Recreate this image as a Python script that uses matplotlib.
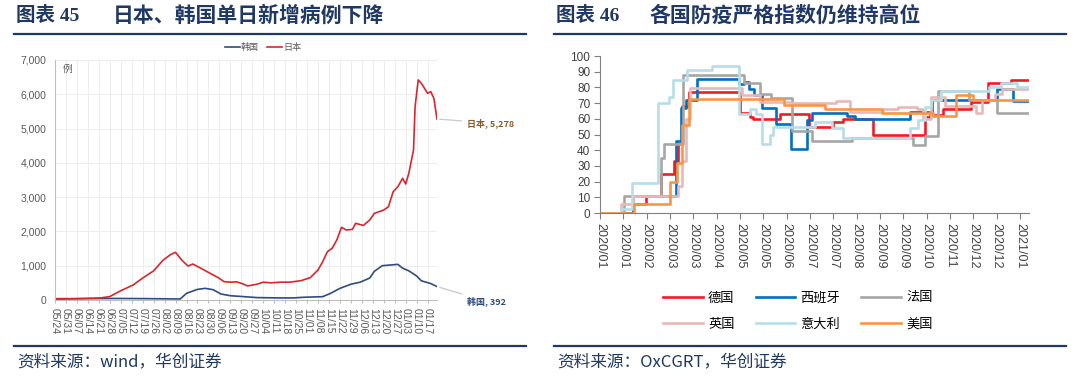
import matplotlib
matplotlib.use("Agg")
import matplotlib.pyplot as plt
import pandas as pd

plt.rcParams['font.family'] = ['Liberation Sans', 'Noto Sans CJK SC', 'DejaVu Sans']
CJK = ['Noto Sans CJK SC', 'DejaVu Sans']

# ---- left chart: daily new cases, Japan / Korea ----
jp_date = ['2020-05-24', '2020-06-03', '2020-06-12', '2020-06-22', '2020-06-28', '2020-07-05',
           '2020-07-13', '2020-07-19', '2020-07-26', '2020-08-01', '2020-08-06', '2020-08-09',
           '2020-08-13', '2020-08-17', '2020-08-20', '2020-08-25', '2020-08-31', '2020-09-05',
           '2020-09-09', '2020-09-13', '2020-09-17', '2020-09-21', '2020-09-24', '2020-09-30',
           '2020-10-04', '2020-10-09', '2020-10-15', '2020-10-21', '2020-10-28', '2020-11-03',
           '2020-11-08', '2020-11-11', '2020-11-14', '2020-11-17', '2020-11-20', '2020-11-23',
           '2020-11-26', '2020-11-30', '2020-12-02', '2020-12-07', '2020-12-11', '2020-12-14',
           '2020-12-20', '2020-12-23', '2020-12-26', '2020-12-29', '2021-01-01', '2021-01-03',
           '2021-01-05', '2021-01-08', '2021-01-09', '2021-01-11', '2021-01-13', '2021-01-17',
           '2021-01-19', '2021-01-21', '2021-01-23']
jp_val = [40, 40, 45, 60, 100, 270,
          440, 640, 850, 1160, 1330, 1390,
          1160, 990, 1050, 930, 780, 660,
          535, 520, 530, 470, 410, 460,
          520, 500, 520, 520, 562, 650,
          875, 1118, 1410, 1507, 1750, 2120,
          2042, 2060, 2236, 2175, 2333, 2528,
          2625, 2722, 3160, 3305, 3549, 3383,
          3695, 4375, 5640, 6417, 6320, 6028,
          6078, 5882, 5278]

kr_date = ['2020-05-24', '2020-06-12', '2020-07-02', '2020-07-21', '2020-08-12', '2020-08-16',
           '2020-08-23', '2020-08-28', '2020-09-02', '2020-09-07', '2020-09-13', '2020-09-21',
           '2020-09-30', '2020-10-15', '2020-10-23', '2020-10-30', '2020-11-11', '2020-11-16',
           '2020-11-22', '2020-11-29', '2020-12-05', '2020-12-11', '2020-12-14', '2020-12-19',
           '2020-12-24', '2020-12-29', '2021-01-01', '2021-01-05', '2021-01-10', '2021-01-13',
           '2021-01-19', '2021-01-23']
kr_val = [25, 40, 45, 40, 30, 195,
          310, 340, 300, 175, 125, 100,
          70, 60, 60, 80, 97, 194,
          340, 460, 520, 640, 837, 1000,
          1020, 1040, 930, 850, 700, 560,
          480, 392]

# ---- right chart: OxCGRT stringency index, change points ----
de_date = ['2020-01-01', '2020-01-31', '2020-02-11', '2020-02-25', '2020-03-08', '2020-03-11',
           '2020-03-15', '2020-03-21', '2020-05-06', '2020-05-15', '2020-05-18', '2020-06-11',
           '2020-07-07', '2020-07-29', '2020-08-07', '2020-09-03', '2020-10-19', '2020-10-24',
           '2020-11-05', '2020-11-30', '2020-12-15', '2021-01-05', '2021-01-21']
de_val = [0, 5.6, 11.1, 25, 33, 44, 68, 76.9, 64, 61, 60, 63, 55, 58, 60, 50, 61, 62.5,
          66, 71, 83, 85, 85]

es_date = ['2020-01-01', '2020-01-31', '2020-03-09', '2020-03-14', '2020-03-18', '2020-03-28',
           '2020-05-05', '2020-05-10', '2020-05-14', '2020-05-19', '2020-05-26', '2020-06-07',
           '2020-06-21', '2020-07-05', '2020-07-10', '2020-08-10', '2020-08-17', '2020-10-06',
           '2020-10-26', '2020-12-23', '2021-01-07', '2021-01-21']
es_val = [0, 11, 46, 67, 72, 85.2, 82, 83.5, 79, 75, 67, 57, 41, 59, 63.5, 62, 60, 64.6,
          72, 79, 71.6, 71.6]

fr_date = ['2020-01-01', '2020-01-23', '2020-02-25', '2020-02-28', '2020-03-16', '2020-05-10',
           '2020-05-24', '2020-06-03', '2020-06-22', '2020-07-10', '2020-08-15', '2020-10-09',
           '2020-10-19', '2020-10-31', '2020-11-28', '2020-12-23', '2021-01-21']
fr_val = [0, 11, 35, 44, 88, 82.6, 76, 73, 52, 46, 48, 43.4, 49, 78, 72, 64, 64]

uk_date = ['2020-01-01', '2020-01-20', '2020-01-31', '2020-03-11', '2020-03-15', '2020-03-18',
           '2020-03-22', '2020-05-08', '2020-05-24', '2020-06-21', '2020-07-31', '2020-08-13',
           '2020-09-12', '2020-09-25', '2020-10-12', '2020-10-18', '2020-10-25', '2020-11-06',
           '2020-12-04', '2020-12-10', '2020-12-21', '2020-12-28', '2021-01-21']
uk_val = [0, 5.6, 11, 17, 33, 60, 79.6, 75, 71, 70, 71.5, 64.4, 66.5, 67.6, 66, 60, 74, 68,
          64, 72, 76, 79, 79]

it_date = ['2020-01-01', '2020-01-20', '2020-01-30', '2020-02-22', '2020-03-03', '2020-03-07',
           '2020-03-19', '2020-04-11', '2020-05-05', '2020-05-15', '2020-05-20', '2020-05-26',
           '2020-06-02', '2020-06-05', '2020-07-12', '2020-07-28', '2020-08-07', '2020-10-06',
           '2020-10-13', '2020-10-19', '2020-10-25', '2020-11-03', '2020-12-16', '2020-12-27',
           '2021-01-10', '2021-01-21']
it_val = [0, 2.8, 19.4, 70, 74, 85, 91, 93.5, 63, 66, 63, 44, 50, 55, 58, 54, 47.5, 54.4,
          59, 67.6, 72, 78, 80, 83, 80, 80]

us_date = ['2020-01-01', '2020-02-01', '2020-03-04', '2020-03-10', '2020-03-15', '2020-03-21',
           '2020-06-15', '2020-07-21', '2020-09-11', '2020-10-27', '2020-11-16', '2020-12-02',
           '2021-01-21']
us_val = [0, 5.6, 20, 32, 56, 72.7, 69, 66.5, 63.5, 62, 75, 72, 72]

countries = ['德国', '西班牙', '法国', '英国', '意大利', '美国']
colors = ['#EE1C25', '#0070C0', '#A6A6A6', '#E6B9B8', '#B7DEE8', '#F79646']
series = [(de_date, de_val), (es_date, es_val), (fr_date, fr_val),
          (uk_date, uk_val), (it_date, it_val), (us_date, us_val)]

NAVY = '#1F3864'
W, H = 1080, 379
fig = plt.figure(figsize=(10.8, 3.79), dpi=100)


def header(x0, x1, num, title, tx, src):
    fig.text((x0 + 2.5) / W, 1 - 15.5 / H, num, family=['Liberation Serif'] + CJK,
             fontsize=14, fontweight='bold', color=NAVY, va='center')
    fig.text(tx / W, 1 - 15.5 / H, title, family=CJK, fontsize=15,
             fontweight='bold', color=NAVY, va='center')
    fig.add_artist(plt.Line2D([x0 / W, x1 / W], [1 - 33.5 / H] * 2, color=NAVY, lw=1.6))
    fig.add_artist(plt.Line2D([x0 / W, x1 / W], [1 - 346 / H] * 2, color=NAVY, lw=1.6))
    fig.text((x0 + 3) / W, 1 - 362 / H, src, family=CJK, fontsize=12,
             style='italic', color=NAVY, va='center')


header(14, 526, '图表 45', '日本、韩国单日新增病例下降', 113, '资料来源：wind，华创证券')
header(554, 1066, '图表 46', '各国防疫严格指数仍维持高位', 649, '资料来源：OxCGRT，华创证券')

# ---- left axes ----
ax1 = fig.add_axes([55 / W, 1 - 300 / H, 382 / W, 240 / H])
jd = pd.to_datetime(jp_date)
kd = pd.to_datetime(kr_date)
ax1.plot(kd, kr_val, color='#2F4C7E', lw=1.2, label='韩国')
ax1.plot(jd, jp_val, color='#D9262E', lw=1.2, label='日本')
ax1.set_ylim(0, 7000)
ax1.set_yticks(range(0, 7001, 1000))
ax1.set_yticklabels([f'{v:,}' for v in range(0, 7001, 1000)])
wk = pd.date_range('2020-05-24', periods=35, freq='7D')
ax1.set_xlim(pd.Timestamp('2020-05-24'), pd.Timestamp('2021-01-23'))
ax1.set_xticks(wk)
ax1.set_xticklabels([d.strftime('%m/%d') for d in wk], rotation=270)
ax1.grid(True, color='#EDEDED', lw=0.7)
ax1.set_axisbelow(True)
for s in ['top', 'right']:
    ax1.spines[s].set_visible(False)
for s in ['left', 'bottom']:
    ax1.spines[s].set_color('#BFBFBF')
ax1.tick_params(axis='y', length=0, labelsize=7.5, labelcolor='#595959', pad=6)
ax1.tick_params(axis='x', length=2, color='#BFBFBF', labelsize=7.5, labelcolor='#595959', pad=4)
ax1.text(0.02, 0.985, '例', transform=ax1.transAxes, family=CJK, fontsize=7,
         color='#595959', va='top')
ax1.legend(loc='center', bbox_to_anchor=((263 - 55) / 382, 1.052), ncol=2, frameon=False,
           prop={'family': CJK, 'size': 6.5}, handlelength=1.7, handletextpad=0.1,
           columnspacing=0.9, labelcolor='#595959')
ax1.annotate(f'日本, {jp_val[-1]:,}', xy=(jd[-1], jp_val[-1]), xytext=(30, -4),
             textcoords='offset pixels', family=CJK, fontsize=6.5, fontweight='bold',
             color='#8C5A2B', va='center', ha='left',
             arrowprops=dict(arrowstyle='-', color='#C8C8C8', lw=0.9), annotation_clip=False)
ax1.annotate(f'韩国, {kr_val[-1]:,}', xy=(kd[-1], kr_val[-1]), xytext=(30, -15),
             textcoords='offset pixels', family=CJK, fontsize=6.5, fontweight='bold',
             color='#2F4C7E', va='center', ha='left',
             arrowprops=dict(arrowstyle='-', color='#C8C8C8', lw=0.9), annotation_clip=False)

# ---- right axes ----
ax2 = fig.add_axes([600 / W, 1 - 213 / H, 429 / W, 157 / H])
handles = []
for name, col, (dt, vals) in zip(countries, colors, series):
    h, = ax2.plot(pd.to_datetime(dt), vals, drawstyle='steps-post', color=col, lw=1.9,
                  label=name)
    handles.append(h)
ax2.set_ylim(0, 100)
ax2.set_yticks(range(0, 101, 10))
ticks = pd.date_range('2020-01-01', periods=19, freq='21D')
ax2.set_xlim(pd.Timestamp('2020-01-01'), pd.Timestamp('2021-01-21'))
ax2.set_xticks(ticks)
ax2.set_xticklabels([d.strftime('%Y/%m') for d in ticks], rotation=270)
for s in ['top', 'right']:
    ax2.spines[s].set_visible(False)
for s in ['left', 'bottom']:
    ax2.spines[s].set_color('#808080')
ax2.tick_params(axis='both', length=4, color='#808080', labelcolor='#404040')
ax2.tick_params(axis='y', labelsize=8.5, pad=3)
ax2.tick_params(axis='x', labelsize=9, pad=3)

order = [0, 3, 1, 4, 2, 5]
fig.legend([handles[i] for i in order], [countries[i] for i in order],
           loc='center', bbox_to_anchor=(798 / W, 1 - 311 / H), ncol=3, frameon=False,
           prop={'family': CJK, 'size': 9.5}, handlelength=3.0, handletextpad=0.4,
           columnspacing=1.6, labelspacing=1.0)

fig.savefig('out.png', dpi=100)
